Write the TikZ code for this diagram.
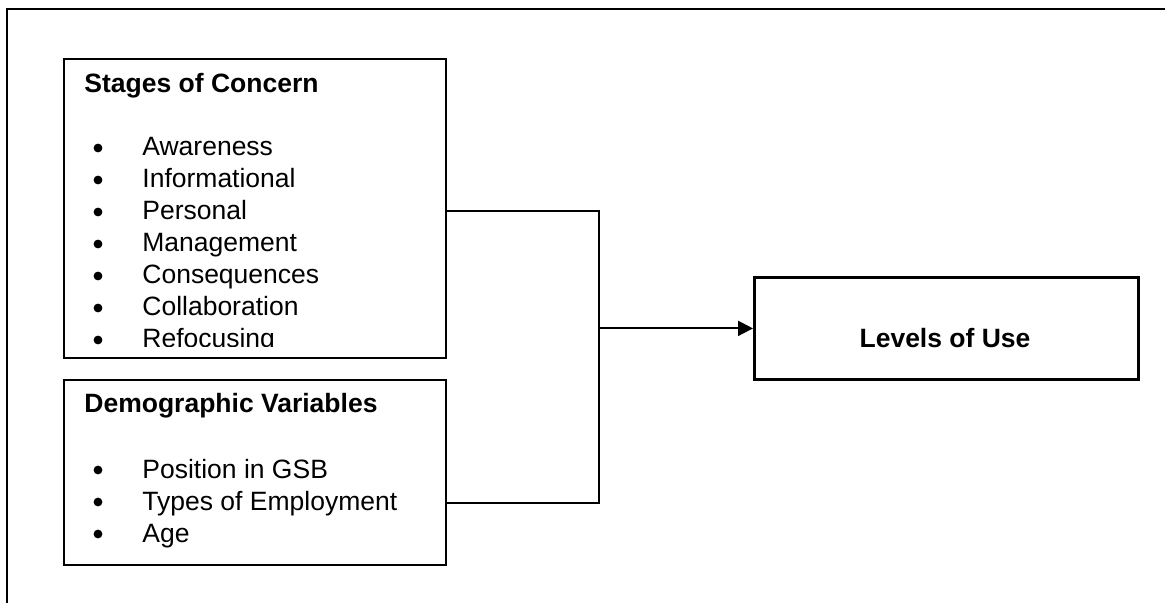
\documentclass[tikz,border=0pt]{standalone}
\usepackage{fontspec}
\setmainfont{Liberation Sans}
\usetikzlibrary{arrows.meta}
\begin{document}
\begin{tikzpicture}[x=0.5pt,y=-0.5pt,
    box/.style={draw,line width=1pt,rectangle,anchor=north west,inner sep=0pt},
    title/.style={anchor=base west,inner sep=0pt,font=\fontsize{13.25}{16}\selectfont\bfseries},
    entry/.style={anchor=base west,inner sep=0pt,font=\fontsize{13.25}{16}\selectfont},
    dot/.style={circle,fill,inner sep=0pt,minimum size=4.4pt},
    link/.style={line width=1pt}]
    \useasboundingbox (0,0) rectangle (1165,603);
    \draw[line width=1pt] (7,9) rectangle (1200,640);
    \node[box,minimum width=191pt,minimum height=149.5pt] (soc) at (63,58) {};
    \node[box,minimum width=191pt,minimum height=92.5pt] (dv) at (63,379) {};
    \node[box,line width=1.4pt,minimum width=192pt,minimum height=51pt] (lou) at (753,276) {};
    \begin{scope}
        \clip (soc.north west) rectangle ([yshift=6pt]soc.south east);
        \node[title] (soc-title) at (84,93) {Stages of Concern};
        \foreach \stage [count=\i] in {Awareness,Informational,Personal,Management,Consequences,Collaboration,Refocusing} {
            \node[dot] (soc-dot-\i) at (98,116+32*\i) {};
            \node[entry] (soc-\i) at (142,124+32*\i) {\stage};
        }
    \end{scope}
    \node[title] (dv-title) at (84,413) {Demographic Variables};
    \foreach \var [count=\i] in {Position in GSB,Types of Employment,Age} {
        \node[dot] (dv-dot-\i) at (98,438+32*\i) {};
        \node[entry] (dv-\i) at (142,446+32*\i) {\var};
    }
    \node[title,anchor=base] (lou-title) at (945,348) {Levels of Use};
    \coordinate (join) at (lou.west -| 599,0);
    \draw[link] ([yshift=-1.25pt]soc.east) -| (join);
    \draw[link] ([yshift=-15pt]dv.east) -| (join);
    \draw[link,-{Triangle[length=7.5pt,width=7.5pt]}] (join) -- (lou.west);
\end{tikzpicture}
\end{document}
